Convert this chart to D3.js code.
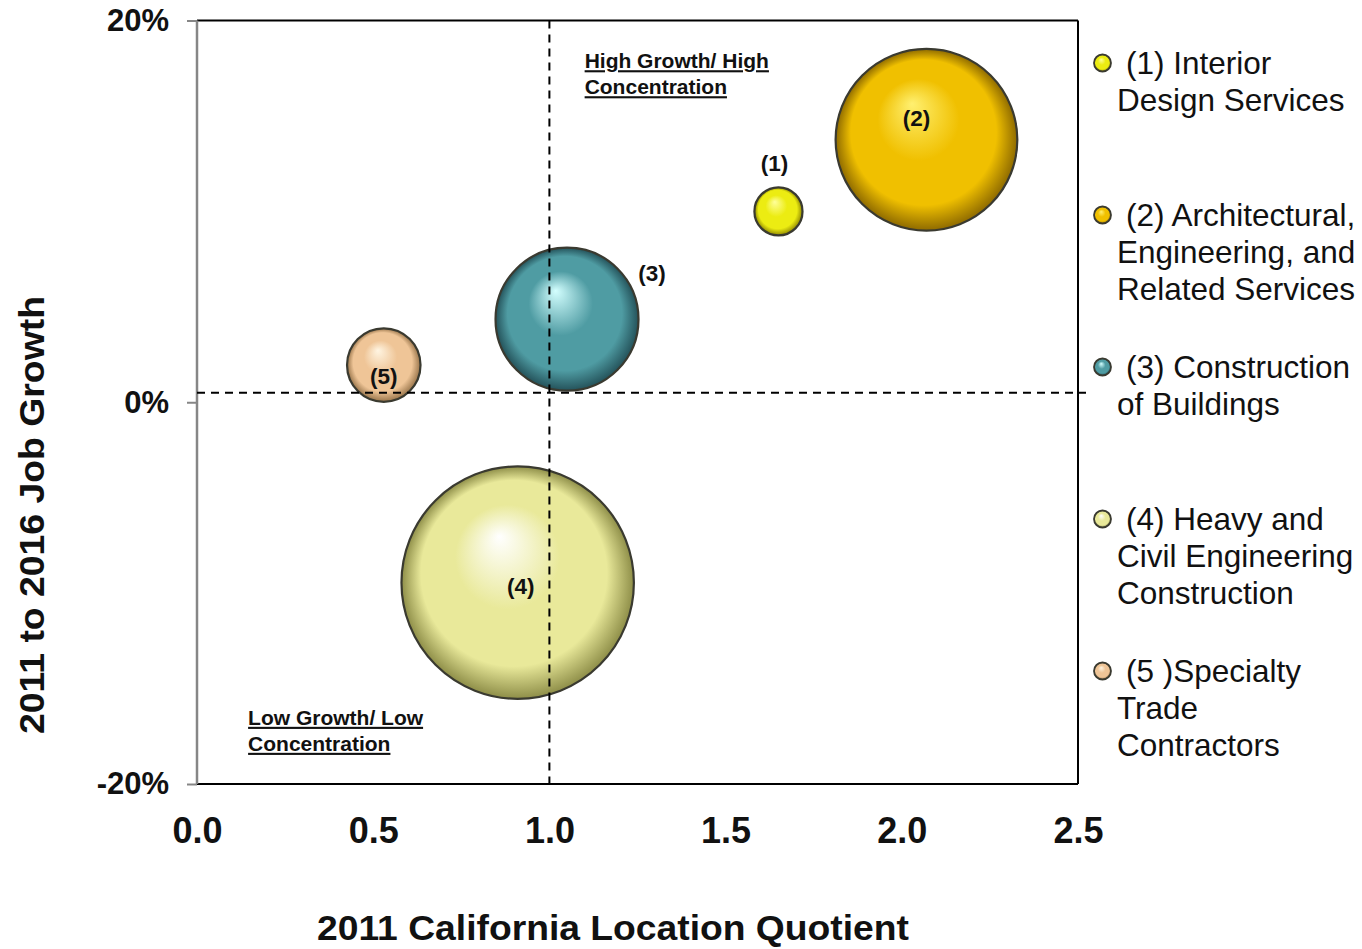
<!DOCTYPE html>
<html>
<head>
<meta charset="utf-8">
<script src="https://cdn.jsdelivr.net/npm/d3@7"></script>
<style>
  html, body { margin: 0; padding: 0; background: #fff; }
  svg { display: block; font-family: "Liberation Sans", Arial, sans-serif; }
</style>
</head>
<body>
<svg id="chart" width="1362" height="949"></svg>
<script>
// ---- data ----
const bubbleLabels = ["(1)", "(2)", "(3)", "(4)", "(5)"];
const legendNames = [
  ["(1) Interior", "Design Services"],
  ["(2) Architectural,", "Engineering, and", "Related Services"],
  ["(3) Construction", "of Buildings"],
  ["(4) Heavy and", "Civil Engineering", "Construction"],
  ["(5 )Specialty", "Trade", "Contractors"]
];
const locationQuotient = [1.65, 2.07, 1.05, 0.91, 0.53];
const jobGrowth = [10.0, 13.75, 4.35, -9.45, 1.95];
const employment = [3000, 42800, 26500, 70000, 7000];
const xTicks = [0, 0.5, 1.0, 1.5, 2.0, 2.5];
const yTicks = [-20, 0, 20];
const avgLocationQuotient = 1.0;
const avgJobGrowth = 0.5;
const quadrantLabels = [
  { lines: ["High Growth/ High", "Concentration"], lq: 1.1, g: 17.5 },
  { lines: ["Low Growth/ Low", "Concentration"], lq: 0.145, g: -16.9 }
];

// ---- styles ----
const mainColors = ["#ecec12", "#f0c000", "#4f9ca3", "#e9e99a", "#efc597"];
const lightColors = ["#ffff9a", "#fff070", "#d4ffff", "#ffffff", "#fff5e2"];
const darkColors = ["#8e8600", "#8e6a00", "#24525a", "#8e8e48", "#98744a"];
const labelOffsets = [[-4, -47], [-10, -21], [85, -45], [3, 4], [0, 12]];

const svg = d3.select("#chart");
const x = d3.scaleLinear().domain([0, 2.5]).range([197, 1078]);
const y = d3.scaleLinear().domain([-20, 20]).range([784, 20.5]);
const r = d3.scaleSqrt().domain([0, d3.max(employment)]).range([0, 116.2]);

// gradients
const defs = svg.append("defs");
mainColors.forEach((c, i) => {
  const g = defs.append("radialGradient").attr("id", "grad" + i)
    .attr("cx", "0.5").attr("cy", "0.5").attr("r", "0.5")
    .attr("fx", "0.42").attr("fy", "0.3");
  g.append("stop").attr("offset", "0").attr("stop-color", lightColors[i]);
  g.append("stop").attr("offset", "0.45").attr("stop-color", mainColors[i]);
  g.append("stop").attr("offset", "0.8").attr("stop-color", mainColors[i]);
  g.append("stop").attr("offset", "1").attr("stop-color", darkColors[i]);
});

// axes
const yAxis = d3.axisLeft(y).tickValues(yTicks).tickFormat(d => d + "%")
  .tickSizeInner(10).tickSizeOuter(0).tickPadding(18);
const gy = svg.append("g").attr("transform", `translate(${x(0)},0)`).call(yAxis);
gy.select(".domain").remove();
gy.selectAll(".tick line").attr("stroke", "#868686").attr("stroke-width", 2);
gy.selectAll(".tick text").attr("font-size", 31).attr("font-weight", "bold")
  .attr("fill", "#111").attr("font-family", "Liberation Sans, Arial, sans-serif");

const xAxis = d3.axisBottom(x).tickValues(xTicks).tickFormat(d3.format(".1f"))
  .tickSizeInner(0).tickSizeOuter(0).tickPadding(33);
const gx = svg.append("g").attr("transform", `translate(0,${y(-20)})`).call(xAxis);
gx.select(".domain").remove();
gx.selectAll(".tick line").remove();
gx.selectAll(".tick text").attr("font-size", 36).attr("font-weight", "bold")
  .attr("fill", "#111").attr("font-family", "Liberation Sans, Arial, sans-serif");

// frame
svg.append("line").attr("x1", x(0)).attr("x2", x(2.5)).attr("y1", y(20)).attr("y2", y(20))
  .attr("stroke", "#000").attr("stroke-width", 2);
svg.append("line").attr("x1", x(2.5)).attr("x2", x(2.5)).attr("y1", y(20)).attr("y2", y(-20))
  .attr("stroke", "#000").attr("stroke-width", 2);
svg.append("line").attr("x1", x(0)).attr("x2", x(2.5)).attr("y1", y(-20)).attr("y2", y(-20))
  .attr("stroke", "#000").attr("stroke-width", 2);
svg.append("line").attr("x1", x(0)).attr("x2", x(0)).attr("y1", y(20)).attr("y2", y(-20))
  .attr("stroke", "#868686").attr("stroke-width", 2.5);

// bubbles
const data = bubbleLabels.map((l, i) => ({ l, i, lq: locationQuotient[i], g: jobGrowth[i], e: employment[i] }));
svg.append("g").selectAll("circle").data(data).join("circle")
  .attr("cx", d => x(d.lq)).attr("cy", d => y(d.g)).attr("r", d => r(d.e))
  .attr("fill", d => `url(#grad${d.i})`)
  .attr("stroke", "#3a3a30").attr("stroke-width", 2.2);

// dashed reference lines
svg.append("line").attr("x1", x(avgLocationQuotient)).attr("x2", x(avgLocationQuotient))
  .attr("y1", y(20)).attr("y2", y(-20))
  .attr("stroke", "#000").attr("stroke-width", 2).attr("stroke-dasharray", "8,6");
svg.append("line").attr("x1", x(0)).attr("x2", x(2.5) + 8)
  .attr("y1", y(avgJobGrowth)).attr("y2", y(avgJobGrowth))
  .attr("stroke", "#000").attr("stroke-width", 2).attr("stroke-dasharray", "8,6");

// bubble labels
svg.append("g").selectAll("text").data(data).join("text")
  .attr("x", d => x(d.lq) + labelOffsets[d.i][0])
  .attr("y", d => y(d.g) + labelOffsets[d.i][1] + 7)
  .attr("text-anchor", "middle").attr("font-size", 22.5).attr("font-weight", "bold")
  .attr("fill", "#111").text(d => d.l);

// quadrant labels
quadrantLabels.forEach(q => {
  const t = svg.append("text").attr("x", x(q.lq)).attr("y", y(q.g))
    .attr("font-size", 21).attr("font-weight", "bold").attr("fill", "#111")
    .attr("text-decoration", "underline");
  q.lines.forEach((ln, k) => {
    t.append("tspan").attr("x", x(q.lq)).attr("dy", k === 0 ? 0 : 26).text(ln);
  });
});

// axis titles
svg.append("text").attr("x", 613).attr("y", 940).attr("text-anchor", "middle")
  .attr("font-size", 35).attr("font-weight", "bold").attr("fill", "#111")
  .attr("textLength", 592).attr("lengthAdjust", "spacingAndGlyphs")
  .text("2011 California Location Quotient");
svg.append("text").attr("transform", "translate(44,515) rotate(-90)").attr("text-anchor", "middle")
  .attr("font-size", 35).attr("font-weight", "bold").attr("fill", "#111")
  .attr("textLength", 438).attr("lengthAdjust", "spacingAndGlyphs")
  .text("2011 to 2016 Job Growth");

// legend
const legendTop = [63, 215, 367, 519, 671];
const lg = svg.append("g");
legendNames.forEach((lines, i) => {
  lg.append("circle").attr("cx", 1102.5).attr("cy", legendTop[i]).attr("r", 8.5)
    .attr("fill", `url(#grad${i})`).attr("stroke", "#3a3a30").attr("stroke-width", 1.8);
  const t = lg.append("text").attr("font-size", 31.5).attr("fill", "#111");
  lines.forEach((ln, k) => {
    t.append("tspan").attr("x", k === 0 ? 1126 : 1117)
      .attr("y", legendTop[i] + 11 + k * 37).text(ln);
  });
});
</script>
</body>
</html>
